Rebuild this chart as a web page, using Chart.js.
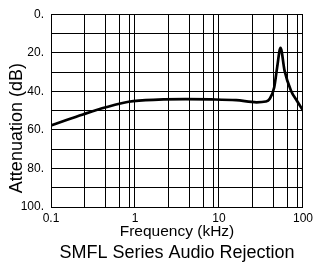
<!DOCTYPE html>
<html lang="en">
<head>
  <meta charset="UTF-8">
  <title>SMFL Series Audio Rejection</title>
  <style>
    body {
      margin: 0;
      padding: 0;
      background: #ffffff;
    }

    .chart-box {
      width: 317px;
      height: 274px;
    }
  </style>
</head>
<body>
<div class="chart-box">
  <canvas id="rejectionChart"></canvas>
</div>

<script src="https://cdn.jsdelivr.net/npm/chart.js"></script>
<script>
  // frequency in kHz, attenuation in dB
  const freqKHz = [0.1, 0.15, 0.24, 0.45, 0.84, 1.9, 4, 8, 16, 28, 36, 40, 45.4, 49.2, 54, 60.4, 72, 85, 100];
  const attenuationDb = [57.7, 55, 52, 48.3, 45.4, 44.3, 44.1, 44.2, 44.6, 45.7, 45.3, 44, 38, 27.7, 17.5, 29.4, 39.7, 45, 50];

  // vertical grid lines inside each decade (multipliers of the decade start)
  const decadeStarts = [0.1, 1, 10];
  const gridMultipliers = [1, 2.48, 4.42, 6.56, 8.5];
  const xLabelValues = [0.1, 1, 10, 100];
  const xLabelTexts = ['0.1', '1', '10', '100'];

  const yTicks = [0, 10, 20, 30, 40, 50, 60, 70, 80, 90, 100];
  const yLabelTexts = ['0.', '', '20.', '', '40.', '', '60.', '', '80.', '', '100.'];

  const FONT = "'Liberation Sans', Arial, Helvetica, sans-serif";

  const xGrid = [];
  decadeStarts.forEach(d => gridMultipliers.forEach(m => xGrid.push(d * m)));
  xGrid.push(100);

  const points = freqKHz.map((f, i) => ({ x: f, y: attenuationDb[i] }));

  const ctx = document.getElementById('rejectionChart').getContext('2d');
  new Chart(ctx, {
    type: 'line',
    data: {
      datasets: [{
        data: points,
        borderColor: '#000',
        borderWidth: 2.7,
        pointRadius: 0,
        fill: false,
        cubicInterpolationMode: 'monotone'
      }]
    },
    options: {
      responsive: true,
      maintainAspectRatio: false,
      animation: false,
      layout: { padding: { left: 0, top: 13, right: 10, bottom: 0 } },
      plugins: {
        legend: { display: false },
        tooltip: { enabled: false },
        title: {
          display: true,
          position: 'bottom',
          fullSize: false,
          text: 'SMFL Series Audio Rejection',
          color: '#000',
          font: { family: FONT, size: 18, weight: 'normal' },
          padding: { top: 0, bottom: 10 }
        }
      },
      scales: {
        x: {
          type: 'logarithmic',
          min: 0.1,
          max: 100,
          afterBuildTicks: scale => {
            scale.ticks = xGrid.map(v => ({ value: v }));
          },
          afterFit: scale => { scale.height = 35.4; },
          ticks: {
            autoSkip: false,
            maxRotation: 0,
            padding: 4,
            color: '#000',
            font: { family: FONT, size: 12 },
            callback: value => {
              const i = xLabelValues.findIndex(v => Math.abs(v - value) < 1e-9);
              return i >= 0 ? xLabelTexts[i] : '';
            }
          },
          grid: { color: '#000', lineWidth: 1, drawTicks: false },
          border: { color: '#000', width: 1 },
          title: {
            display: true,
            text: 'Frequency (kHz)',
            color: '#000',
            font: { family: FONT, size: 15.5 },
            padding: { top: 0, bottom: 1 }
          }
        },
        y: {
          reverse: true,
          min: 0,
          max: 100,
          afterBuildTicks: scale => {
            scale.ticks = yTicks.map(v => ({ value: v }));
          },
          afterFit: scale => { scale.width = 51; },
          ticks: {
            padding: 7,
            color: '#000',
            font: { family: FONT, size: 12 },
            callback: value => {
              const i = yTicks.indexOf(value);
              return i >= 0 ? yLabelTexts[i] : '';
            }
          },
          grid: { color: '#000', lineWidth: 1, drawTicks: false },
          border: { color: '#000', width: 1 },
          title: {
            display: true,
            // trailing spaces push the label a little below the axis centre, as in the reference
            text: 'Attenuation (dB)       ',
            color: '#000',
            font: { family: FONT, size: 18 },
            padding: { top: 6, bottom: 0 }
          }
        }
      }
    }
  });
</script>
</body>
</html>
